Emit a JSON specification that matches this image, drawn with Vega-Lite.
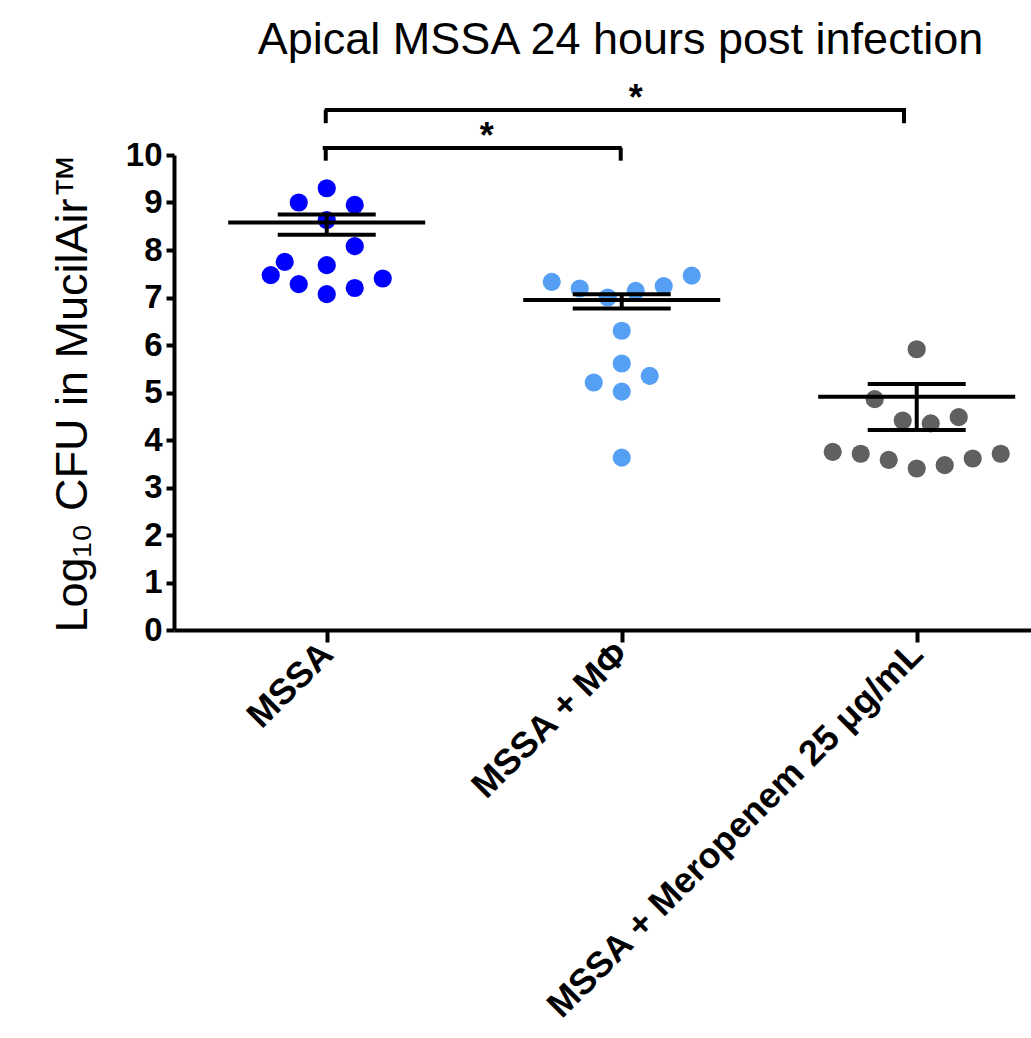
{
  "$schema": "https://vega.github.io/schema/vega-lite/v6.json",
  "autosize": "none",
  "padding": {"left": 174, "top": 155, "right": 0, "bottom": 408},
  "width": 857,
  "height": 475,
  "title": {
    "text": "Apical MSSA 24 hours post infection",
    "font": "Liberation Sans",
    "fontSize": 45,
    "fontWeight": "normal",
    "color": "black",
    "anchor": "middle",
    "frame": "group",
    "dx": 18,
    "offset": 18
  },
  "config": {
    "view": {"stroke": null},
    "font": "Liberation Sans",
    "tick": {"opacity": 1},
    "axis": {
      "domainColor": "black",
      "domainWidth": 4,
      "tickColor": "black",
      "tickWidth": 4,
      "labelColor": "black",
      "labelFont": "Liberation Sans",
      "labelFontWeight": "bold",
      "grid": false,
      "titleColor": "black",
      "titleFont": "Liberation Sans"
    }
  },
  "datasets": {
    "points": [
      {"group": "MSSA", "slot": 0, "value": 9.30},
      {"group": "MSSA", "slot": -1, "value": 9.00},
      {"group": "MSSA", "slot": 1, "value": 8.95},
      {"group": "MSSA", "slot": 0, "value": 8.63},
      {"group": "MSSA", "slot": 1, "value": 8.08},
      {"group": "MSSA", "slot": -1.5, "value": 7.75},
      {"group": "MSSA", "slot": 0, "value": 7.68},
      {"group": "MSSA", "slot": -2, "value": 7.47},
      {"group": "MSSA", "slot": 2, "value": 7.40},
      {"group": "MSSA", "slot": -1, "value": 7.28},
      {"group": "MSSA", "slot": 1, "value": 7.20},
      {"group": "MSSA", "slot": 0, "value": 7.07},
      {"group": "MSSA + MΦ", "slot": -2.5, "value": 7.33},
      {"group": "MSSA + MΦ", "slot": -1.5, "value": 7.19},
      {"group": "MSSA + MΦ", "slot": -0.5, "value": 7.00},
      {"group": "MSSA + MΦ", "slot": 0.5, "value": 7.14},
      {"group": "MSSA + MΦ", "slot": 1.5, "value": 7.24},
      {"group": "MSSA + MΦ", "slot": 2.5, "value": 7.46},
      {"group": "MSSA + MΦ", "slot": 0, "value": 6.30},
      {"group": "MSSA + MΦ", "slot": 0, "value": 5.61},
      {"group": "MSSA + MΦ", "slot": 1, "value": 5.35},
      {"group": "MSSA + MΦ", "slot": -1, "value": 5.21},
      {"group": "MSSA + MΦ", "slot": 0, "value": 5.02},
      {"group": "MSSA + MΦ", "slot": 0, "value": 3.63},
      {"group": "MSSA + Meropenem 25 μg/mL", "slot": 0, "value": 5.91},
      {"group": "MSSA + Meropenem 25 μg/mL", "slot": -1.5, "value": 4.86},
      {"group": "MSSA + Meropenem 25 μg/mL", "slot": -0.5, "value": 4.41},
      {"group": "MSSA + Meropenem 25 μg/mL", "slot": 0.5, "value": 4.35},
      {"group": "MSSA + Meropenem 25 μg/mL", "slot": 1.5, "value": 4.48},
      {"group": "MSSA + Meropenem 25 μg/mL", "slot": -3, "value": 3.75},
      {"group": "MSSA + Meropenem 25 μg/mL", "slot": -2, "value": 3.71},
      {"group": "MSSA + Meropenem 25 μg/mL", "slot": -1, "value": 3.58},
      {"group": "MSSA + Meropenem 25 μg/mL", "slot": 0, "value": 3.40},
      {"group": "MSSA + Meropenem 25 μg/mL", "slot": 1, "value": 3.47},
      {"group": "MSSA + Meropenem 25 μg/mL", "slot": 2, "value": 3.61},
      {"group": "MSSA + Meropenem 25 μg/mL", "slot": 3, "value": 3.71}
    ],
    "summary": [
      {"group": "MSSA", "mean": 8.58, "hi": 8.75, "lo": 8.32},
      {"group": "MSSA + MΦ", "mean": 6.95, "hi": 7.07, "lo": 6.77},
      {"group": "MSSA + Meropenem 25 μg/mL", "mean": 4.91, "hi": 5.18, "lo": 4.21}
    ],
    "bracketLow": [
      {"group": "MSSA", "group2": "MSSA + MΦ", "value": 10.15, "foot": 9.88, "label": "*"}
    ],
    "bracketHigh": [
      {"group": "MSSA", "group2": "MSSA + Meropenem 25 μg/mL", "value": 10.95, "foot": 10.67, "label": "*"}
    ],
    "legs": [
      {"group": "MSSA", "value": 10.15, "foot": 9.88},
      {"group": "MSSA + MΦ", "value": 10.15, "foot": 9.88},
      {"group": "MSSA", "value": 10.95, "foot": 10.67}
    ],
    "legsRight": [
      {"group": "MSSA + Meropenem 25 μg/mL", "value": 10.95, "foot": 10.67}
    ]
  },
  "layer": [
    {
      "data": {"name": "points"},
      "mark": {"type": "circle", "size": 330, "opacity": 1},
      "encoding": {
        "x": {
          "field": "group",
          "type": "nominal",
          "scale": {
            "type": "point",
            "domain": ["MSSA", "MSSA + MΦ", "MSSA + Meropenem 25 μg/mL"],
            "padding": 0.4526,
            "align": 0.572
          },
          "axis": {
            "title": null,
            "labelAngle": -45,
            "labelAlign": "right",
            "labelBaseline": "middle",
            "labelFontSize": 36,
            "labelPadding": 6,
            "labelLimit": 0,
            "tickSize": 12
          }
        },
        "xOffset": {
          "field": "slot",
          "type": "quantitative",
          "scale": {"domain": [-3, 3], "range": [-84, 84]}
        },
        "y": {
          "field": "value",
          "type": "quantitative",
          "scale": {"domain": [0, 10], "nice": false},
          "axis": {
            "title": "Log₁₀ CFU in MucilAir™",
            "titleFontSize": 45,
            "titleFontWeight": "normal",
            "titlePadding": 30,
            "values": [0, 1, 2, 3, 4, 5, 6, 7, 8, 9, 10],
            "labelFontSize": 33,
            "labelPadding": 4,
            "tickSize": 8
          }
        },
        "color": {
          "field": "group",
          "type": "nominal",
          "scale": {
            "domain": ["MSSA", "MSSA + MΦ", "MSSA + Meropenem 25 μg/mL"],
            "range": ["#0000FF", "#55A0F5", "#606060"]
          },
          "legend": null
        }
      }
    },
    {
      "data": {"name": "summary"},
      "mark": {"type": "tick", "size": 197, "thickness": 4, "color": "black", "opacity": 1},
      "encoding": {
        "x": {"field": "group", "type": "nominal"},
        "y": {"field": "mean", "type": "quantitative"}
      }
    },
    {
      "data": {"name": "summary"},
      "mark": {"type": "tick", "size": 98, "thickness": 4, "color": "black", "opacity": 1},
      "encoding": {
        "x": {"field": "group", "type": "nominal"},
        "y": {"field": "hi", "type": "quantitative"}
      }
    },
    {
      "data": {"name": "summary"},
      "mark": {"type": "tick", "size": 98, "thickness": 4, "color": "black", "opacity": 1},
      "encoding": {
        "x": {"field": "group", "type": "nominal"},
        "y": {"field": "lo", "type": "quantitative"}
      }
    },
    {
      "data": {"name": "summary"},
      "mark": {"type": "rule", "strokeWidth": 4, "color": "black"},
      "encoding": {
        "x": {"field": "group", "type": "nominal"},
        "y": {"field": "lo", "type": "quantitative"},
        "y2": {"field": "hi"}
      }
    },
    {
      "data": {"name": "bracketLow"},
      "mark": {"type": "rule", "strokeWidth": 4, "color": "black", "strokeCap": "square", "xOffset": -2, "x2Offset": -2},
      "encoding": {
        "x": {"field": "group", "type": "nominal"},
        "x2": {"field": "group2"},
        "y": {"field": "value", "type": "quantitative"}
      }
    },
    {
      "data": {"name": "bracketHigh"},
      "mark": {"type": "rule", "strokeWidth": 4, "color": "black", "strokeCap": "square", "x2Offset": -12.7},
      "encoding": {
        "x": {"field": "group", "type": "nominal"},
        "x2": {"field": "group2"},
        "y": {"field": "value", "type": "quantitative"}
      }
    },
    {
      "data": {"name": "legs"},
      "mark": {"type": "rule", "strokeWidth": 4, "color": "black", "xOffset": -1},
      "encoding": {
        "x": {"field": "group", "type": "nominal"},
        "y": {"field": "value", "type": "quantitative"},
        "y2": {"field": "foot"}
      }
    },
    {
      "data": {"name": "legsRight"},
      "mark": {"type": "rule", "strokeWidth": 4, "color": "black", "xOffset": -12.7},
      "encoding": {
        "x": {"field": "group", "type": "nominal"},
        "y": {"field": "value", "type": "quantitative"},
        "y2": {"field": "foot"}
      }
    },
    {
      "data": {"name": "bracketLow"},
      "mark": {"type": "text", "fontSize": 36, "fontWeight": "bold", "color": "black", "baseline": "alphabetic", "align": "center", "dx": 160},
      "encoding": {
        "x": {"field": "group", "type": "nominal"},
        "y": {"field": "value", "type": "quantitative"},
        "text": {"field": "label"}
      }
    },
    {
      "data": {"name": "bracketHigh"},
      "mark": {"type": "text", "fontSize": 36, "fontWeight": "bold", "color": "black", "baseline": "alphabetic", "align": "center", "dx": 309},
      "encoding": {
        "x": {"field": "group", "type": "nominal"},
        "y": {"field": "value", "type": "quantitative"},
        "text": {"field": "label"}
      }
    }
  ]
}
